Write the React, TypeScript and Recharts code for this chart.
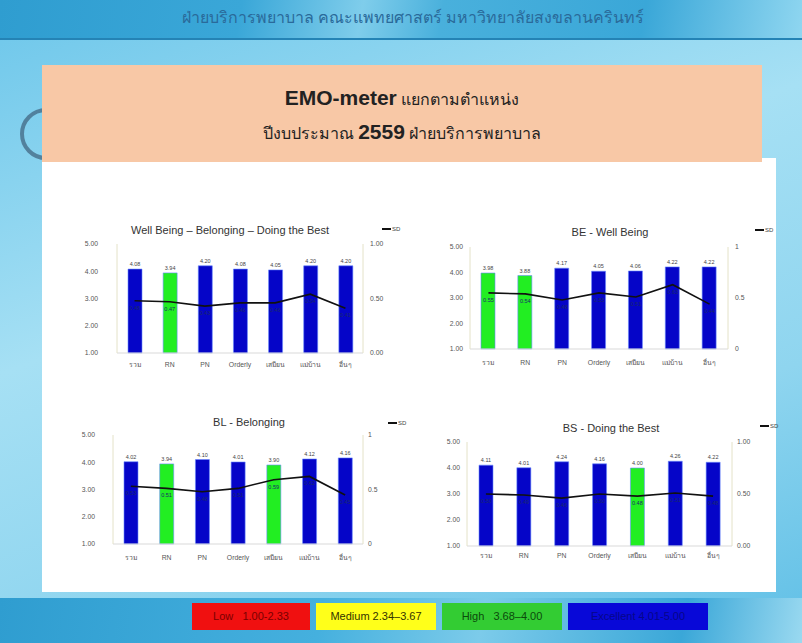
import { ComposedChart, Bar, Line, XAxis, YAxis, Cell, LabelList } from 'recharts';

const positions = ['รวม', 'RN', 'PN', 'Orderly', 'เสมียน', 'แม่บ้าน', 'อื่นๆ'];

const allMean = [4.08, 3.94, 4.2, 4.08, 4.05, 4.2, 4.2];
const allSd = [0.48, 0.47, 0.43, 0.46, 0.46, 0.54, 0.41];
const beMean = [3.98, 3.88, 4.17, 4.05, 4.06, 4.22, 4.22];
const beSd = [0.55, 0.54, 0.48, 0.55, 0.51, 0.63, 0.44];
const blMean = [4.02, 3.94, 4.1, 4.01, 3.9, 4.12, 4.16];
const blSd = [0.53, 0.51, 0.48, 0.51, 0.59, 0.62, 0.45];
const bsMean = [4.11, 4.01, 4.24, 4.16, 4.0, 4.26, 4.22];
const bsSd = [0.5, 0.49, 0.46, 0.5, 0.48, 0.51, 0.48];

const meanTicks = [1, 2, 3, 4, 5];
const sdTicks = [0, 0.5, 1];

const levels = [
  { text: 'Low   1.00-2.33', bg: '#f01010', color: '#7a0000', width: 118 },
  { text: 'Medium 2.34–3.67', bg: '#ffff1a', color: '#333300', width: 120 },
  { text: 'High   3.68–4.00', bg: '#33cc33', color: '#0b4a0b', width: 120 },
  { text: 'Excellent 4.01-5.00', bg: '#0808d8', color: '#06068a', width: 140 },
];

const BLUE = '#0505c8';
const GREEN = '#22ee22';
const FONT = '"Liberation Sans", Arial, "Noto Sans", sans-serif';

function toRows(mean: number[], sd: number[]) {
  return positions.map((name, i) => ({ name, mean: mean[i], sd: sd[i] }));
}

interface ChartBox {
  x0: number;
  x1: number;
  y0: number;
  y1: number;
  leftGap: number;
  rightGap: number;
  catGap: number;
}

interface EmoChartProps {
  title: string;
  titleX: number;
  titleY: number;
  legendX: number;
  legendY: number;
  mean: number[];
  sd: number[];
  box: ChartBox;
  sdFormat: (v: number) => string;
}

function EmoChart({ title, titleX, titleY, legendX, legendY, mean, sd, box, sdFormat }: EmoChartProps) {
  const data = toRows(mean, sd);
  const lw = 34;
  const rw = 34;
  const top = 10;
  const xh = 22;
  const width = box.x1 - box.x0 + lw + rw;
  const height = box.y1 - box.y0 + top + xh;
  return (
    <>
      <div
        style={{
          position: 'absolute',
          left: titleX - 150,
          top: titleY - 8,
          width: 300,
          textAlign: 'center',
          fontSize: 11,
          color: '#333',
          fontFamily: FONT,
          lineHeight: '16px',
        }}
      >
        {title}
      </div>
      <div
        style={{
          position: 'absolute',
          left: legendX,
          top: legendY - 5,
          fontSize: 6,
          color: '#444',
          fontFamily: FONT,
          display: 'flex',
          alignItems: 'center',
        }}
      >
        <span style={{ display: 'inline-block', width: 9, height: 2, background: '#111', marginRight: 1 }} />
        SD
      </div>
      <div style={{ position: 'absolute', left: box.x0 - lw, top: box.y0 - top }}>
        <ComposedChart
          width={width}
          height={height}
          data={data}
          margin={{ top, right: 0, bottom: 0, left: 0 }}
          barCategoryGap={0}
        >
          <XAxis
            dataKey="name"
            interval={0}
            height={xh}
            tickLine={false}
            tickSize={0}
            tickMargin={box.catGap}
            axisLine={{ stroke: '#d9d9d9' }}
            tick={{ fontSize: 6.8, fill: '#555', fontFamily: FONT }}
          />
          <YAxis
            yAxisId="mean"
            orientation="left"
            width={lw}
            domain={[1, 5]}
            ticks={meanTicks}
            tickFormatter={(v: number) => v.toFixed(2)}
            tickLine={false}
            tickSize={0}
            tickMargin={box.leftGap}
            axisLine={{ stroke: '#e4e2c8' }}
            tick={{ fontSize: 6.8, fill: '#555', fontFamily: FONT }}
          />
          <YAxis
            yAxisId="sd"
            orientation="right"
            width={rw}
            domain={[0, 1]}
            ticks={sdTicks}
            tickFormatter={sdFormat}
            tickLine={false}
            tickSize={0}
            tickMargin={box.rightGap}
            axisLine={{ stroke: '#e4e2c8' }}
            tick={{ fontSize: 6.8, fill: '#555', fontFamily: FONT, textAnchor: 'start' }}
          />
          <Bar yAxisId="mean" dataKey="mean" barSize={14} isAnimationActive={false} stroke="#6a8cff" strokeWidth={0.6}>
            {data.map((d) => (
              <Cell key={d.name} fill={d.mean <= 4 ? GREEN : BLUE} />
            ))}
            <LabelList
              dataKey="mean"
              position="top"
              offset={3}
              formatter={(v: any) => Number(v).toFixed(2)}
              style={{ fontSize: 5.5, fill: '#444', fontFamily: FONT }}
            />
          </Bar>
          <Line
            yAxisId="sd"
            dataKey="sd"
            type="linear"
            stroke="#111"
            strokeWidth={1.6}
            dot={false}
            isAnimationActive={false}
          >
            <LabelList
              dataKey="sd"
              position="bottom"
              offset={5}
              formatter={(v: any) => Number(v).toFixed(2)}
              style={{ fontSize: 5.5, fill: '#1a2a6a', fontFamily: FONT }}
            />
          </Line>
        </ComposedChart>
      </div>
    </>
  );
}

const fmt2 = (v: number) => v.toFixed(2);
const fmtShort = (v: number) => String(v);

export default function App() {
  return (
    <div
      style={{
        position: 'absolute',
        left: 0,
        top: 0,
        width: 802,
        height: 643,
        overflow: 'hidden',
        fontFamily: FONT,
        background: 'linear-gradient(160deg, #6cc6ea 0%, #a6e0f4 40%, #8fd5ef 70%, #5fbfe6 100%)',
      }}
    >
      {/* top banner */}
      <div
        style={{
          position: 'absolute',
          left: 0,
          top: 0,
          width: 802,
          height: 38,
          background:
            'linear-gradient(100deg, #2f9dd0 0%, #3aa7d8 30%, #7fcdeb 45%, #49b0dc 55%, #3aa7d8 80%, #8fd6f0 100%)',
          borderBottom: '2px solid #2483b5',
        }}
      />
      <div
        style={{
          position: 'absolute',
          left: 0,
          top: 8,
          width: 826,
          textAlign: 'center',
          fontSize: 16,
          color: '#2a6a9a',
          lineHeight: '20px',
        }}
      >
        ฝ่ายบริการพยาบาล คณะแพทยศาสตร์ มหาวิทยาลัยสงขลานครินทร์
      </div>
      {/* faint logo arc */}
      <div
        style={{
          position: 'absolute',
          left: 20,
          top: 108,
          width: 44,
          height: 44,
          borderRadius: '50%',
          border: '4px solid #3d5f7a',
          opacity: 0.7,
        }}
      />
      {/* white panel */}
      <div style={{ position: 'absolute', left: 42, top: 158, width: 734, height: 434, background: '#fff' }} />
      {/* title box */}
      <div
        style={{
          position: 'absolute',
          left: 42,
          top: 65,
          width: 720,
          height: 97,
          background: '#f8c8a6',
          textAlign: 'center',
          color: '#222',
        }}
      >
        <div style={{ marginTop: 20, fontSize: 16, lineHeight: '26px' }}>
          <b style={{ fontSize: 21 }}>EMO-meter</b> แยกตามตำแหน่ง
        </div>
        <div style={{ marginTop: 6, fontSize: 16, lineHeight: '26px' }}>
          ปีงบประมาณ <b style={{ fontSize: 21 }}>2559</b> ฝ่ายบริการพยาบาล
        </div>
      </div>

      <EmoChart
        title="Well Being – Belonging – Doing the Best"
        titleX={230}
        titleY={230}
        legendX={382}
        legendY={231}
        mean={allMean}
        sd={allSd}
        sdFormat={fmt2}
        box={{ x0: 117, x1: 363, y0: 244, y1: 353, leftGap: 19, rightGap: 7, catGap: 9 }}
      />
      <EmoChart
        title="BE - Well Being"
        titleX={610}
        titleY={232}
        legendX={755}
        legendY={232}
        mean={beMean}
        sd={beSd}
        sdFormat={fmtShort}
        box={{ x0: 470, x1: 728, y0: 247, y1: 349, leftGap: 7, rightGap: 7, catGap: 11 }}
      />
      <EmoChart
        title="BL - Belonging"
        titleX={249}
        titleY={422}
        legendX={388}
        legendY={425}
        mean={blMean}
        sd={blSd}
        sdFormat={fmtShort}
        box={{ x0: 113, x1: 363, y0: 435, y1: 544, leftGap: 18, rightGap: 5, catGap: 11 }}
      />
      <EmoChart
        title="BS - Doing the Best"
        titleX={611}
        titleY={428}
        legendX={760}
        legendY={428}
        mean={bsMean}
        sd={bsSd}
        sdFormat={fmt2}
        box={{ x0: 467, x1: 732, y0: 442, y1: 546, leftGap: 7, rightGap: 5, catGap: 7 }}
      />

      {/* bottom band */}
      <div
        style={{
          position: 'absolute',
          left: 0,
          top: 598,
          width: 802,
          height: 45,
          background: 'linear-gradient(100deg, #2f9dd0 0%, #45b0de 40%, #7ccbea 60%, #3aa7d8 85%, #9ad9f0 100%)',
        }}
      />
      <div style={{ position: 'absolute', left: 192, top: 603, display: 'flex', gap: 6 }}>
        {levels.map((l) => (
          <div
            key={l.text}
            style={{
              width: l.width,
              height: 27,
              background: l.bg,
              color: l.color,
              fontSize: 11,
              lineHeight: '27px',
              textAlign: 'center',
              whiteSpace: 'pre',
              fontFamily: '"Liberation Sans Narrow", "Liberation Sans", Arial, sans-serif',
            }}
          >
            {l.text}
          </div>
        ))}
      </div>
    </div>
  );
}
